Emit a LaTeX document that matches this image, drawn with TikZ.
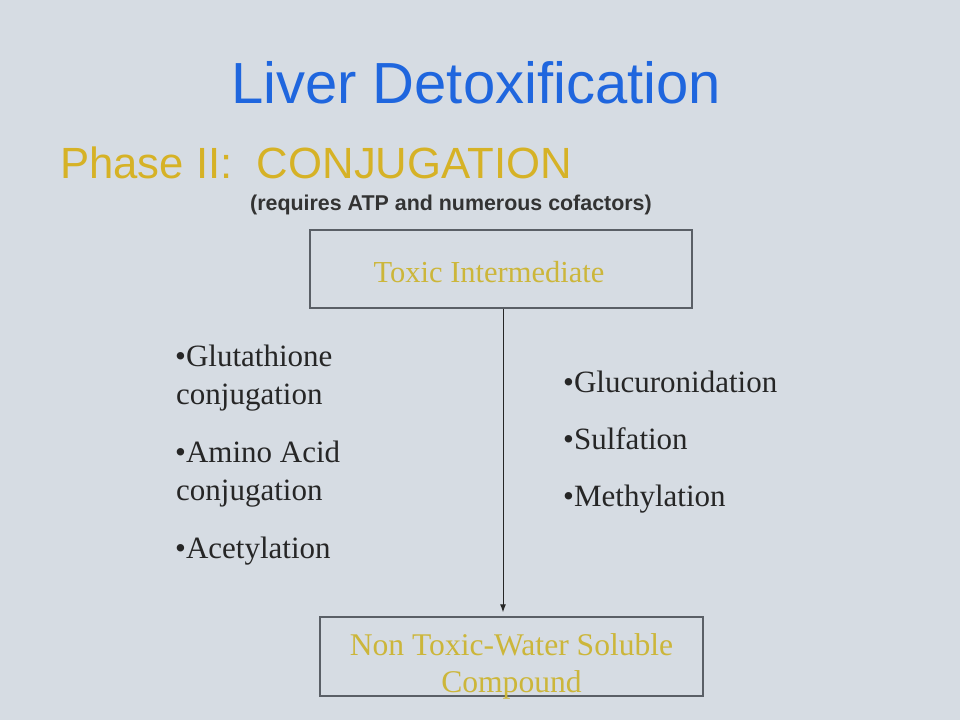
\documentclass[tikz,border=0pt]{standalone}
\usepackage{fontspec}
\setmainfont{Liberation Serif}
\newfontfamily\arialf{Liberation Sans}
\usetikzlibrary{arrows.meta}
\definecolor{bgc}{HTML}{D6DCE3}
\definecolor{titleblue}{HTML}{1F66DE}
\definecolor{phasegold}{HTML}{D6B226}
\definecolor{boxgold}{HTML}{CCB63A}
\definecolor{boxline}{HTML}{5A5F66}
\definecolor{subgray}{HTML}{333333}
\definecolor{itemc}{HTML}{262626}
\begin{document}
\begin{tikzpicture}[x=1pt,y=-1pt,
  item/.style={anchor=base west, inner sep=0pt, text=itemc, font=\fontsize{31}{37}\selectfont},
  boxnode/.style={draw=boxline, line width=1.4pt, inner sep=0pt, text=boxgold, font=\fontsize{30.5}{37}\selectfont},
  flow/.style={draw=black!85, line width=1pt, -{Latex[length=8pt,width=6pt]}, shorten >=4pt}]
\fill[bgc] (0,0) rectangle (960,720);
\useasboundingbox (0,0) rectangle (960,720);
% titles
\node[anchor=base, inner sep=0pt, text=titleblue, font=\arialf\fontsize{58}{62}\selectfont] (title) at (476,103) {Liver Detoxification};
\node[anchor=base west, inner sep=0pt, text=phasegold, font=\arialf\fontsize{43.7}{48}\selectfont] (phase) at (60,178) {Phase II:\ \ CONJUGATION};
\node[anchor=base west, inner sep=0pt, text=subgray, font=\arialf\bfseries\fontsize{21.4}{24}\selectfont] (req) at (250,210) {(requires ATP and numerous cofactors)};
% boxes
\node[boxnode, minimum width=382pt, minimum height=78pt] (tox) at (501,269) {\raisebox{-3pt}[\height][\depth]{Toxic Intermediate\hspace*{24pt}}};
\node[boxnode, minimum width=383pt, minimum height=79pt] (ntx) at (511.5,656.5) {\raisebox{-10pt}[\height][\depth]{\fontsize{31.6}{37.5}\selectfont\begin{tabular}{@{}c@{}}Non Toxic-Water Soluble\\Compound\end{tabular}}};
\coordinate (ax) at (503,0);
\draw[flow] (tox.south -| ax) -- (ntx.north -| ax);
% left list
\node[item] (g1) at (175,366) {•Glutathione};
\node[item] (g2) at (176,404) {conjugation};
\node[item] (a1) at (175,462) {•Amino Acid};
\node[item] (a2) at (176,500) {conjugation};
\node[item] (ac) at (175,558) {•Acetylation};
% right list
\node[item] (gl) at (563,392) {•Glucuronidation};
\node[item] (su) at (563,449) {•Sulfation};
\node[item] (me) at (563,506) {•Methylation};
\end{tikzpicture}
\end{document}
